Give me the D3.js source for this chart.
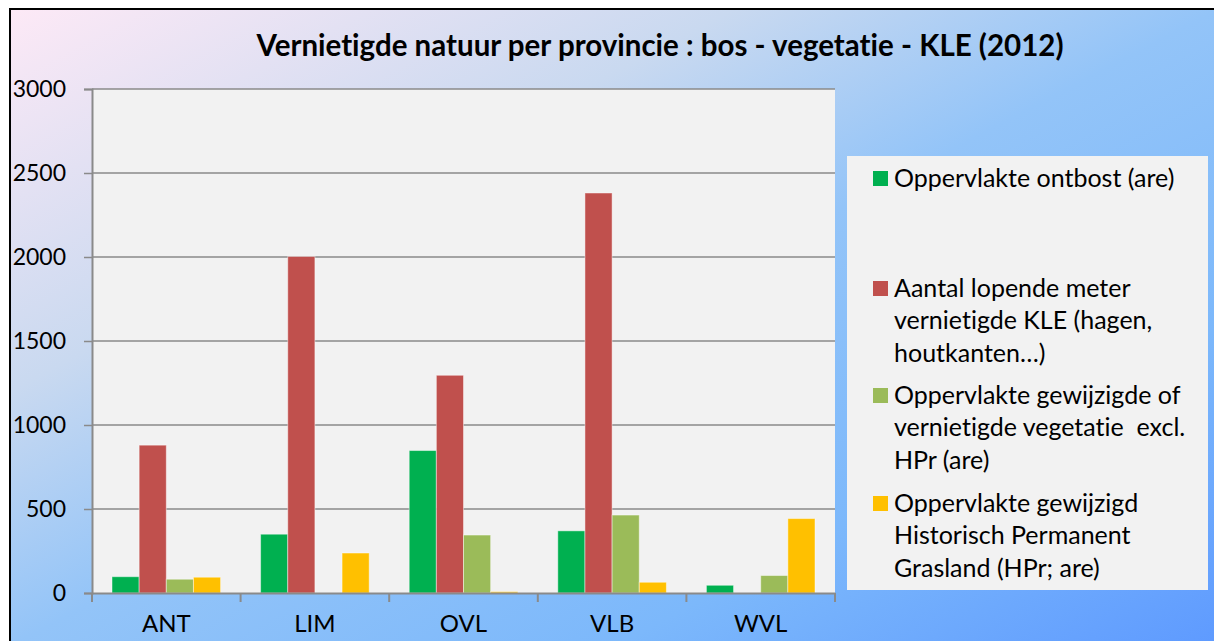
<!DOCTYPE html>
<html><head><meta charset="utf-8">
<script src="https://cdn.jsdelivr.net/npm/d3@7"></script>
<style>html,body{margin:0;padding:0;background:#fff;overflow:hidden} text{font-variant-ligatures:none;font-feature-settings:"liga" 0,"clig" 0,"dlig" 0;white-space:pre}</style>
</head><body>
<script>
const categories = ["ANT","LIM","OVL","VLB","WVL"];
const seriesNames = [
  ["Oppervlakte ontbost (are)"],
  ["Aantal lopende meter","vernietigde KLE (hagen,","houtkanten…)"],
  ["Oppervlakte gewijzigde of","vernietigde vegetatie  excl.","HPr (are)"],
  ["Oppervlakte gewijzigd","Historisch Permanent","Grasland (HPr; are)"]
];
const ontbost   = [97, 350, 848, 370, 46];
const kle       = [880, 2003, 1296, 2381, 0];
const vegetatie = [82, 0, 345, 464, 104];
const hpr       = [94, 238, 8, 64, 443];
const yTicks = [0,500,1000,1500,2000,2500,3000];
const colors = ["#00b050","#c0504d","#9bbb59","#ffc000"];
const series = [ontbost, kle, vegetatie, hpr];
const title = "Vernietigde natuur per provincie : bos - vegetatie - KLE (2012)";

const W=1214,H=641;
const svg=d3.select("body").append("svg").attr("width",W).attr("height",H);
const defs=svg.append("defs");
const g=defs.append("linearGradient").attr("id","bg").attr("x1",0).attr("y1",0).attr("x2",1).attr("y2",1);
[[0,"#fde9f6"],[0.3,"#c9d9f0"],[0.5,"#93c4f8"],[0.75,"#7cb8fb"],[1,"#5e9aff"]].forEach(s=>g.append("stop").attr("offset",s[0]).attr("stop-color",s[1]));
svg.append("rect").attr("x",10).attr("y",9).attr("width",W-10+5).attr("height",H-9+5).attr("fill","url(#bg)").attr("stroke","#000").attr("stroke-width",2);

const font="Lato, 'Open Sans', sans-serif";
svg.append("text").attr("x",660).attr("y",56).attr("text-anchor","middle")
  .attr("font-family",font).attr("font-weight","bold").attr("font-size",29.5).attr("fill","#000").text(title);

const L=92,R=835,T=89,B=593;
const x=d3.scaleBand().domain(categories).range([L,R]).paddingInner(0).paddingOuter(0);
const y=d3.scaleLinear().domain([0,3000]).range([B,T]);
const inner=d3.scaleBand().domain(d3.range(4)).range([20,x.bandwidth()-20]);

svg.append("rect").attr("x",L).attr("y",T).attr("width",R-L).attr("height",B-T).attr("fill","#f2f2f2");

// gridlines
svg.append("g").selectAll("line").data(yTicks.filter(d=>d>0)).join("line")
  .attr("x1",L).attr("x2",R).attr("y1",d=>y(d)).attr("y2",d=>y(d))
  .attr("stroke","#8a8a8a").attr("stroke-width",1.5);

// bars
series.forEach((vals,si)=>{
  svg.append("g").selectAll("rect").data(vals).join("rect")
    .attr("x",(d,i)=>x(categories[i])+inner(si))
    .attr("width",inner.bandwidth())
    .attr("y",d=>y(d)).attr("height",d=>B-y(d))
    .attr("fill",colors[si]).attr("stroke","rgba(255,255,255,0.45)").attr("stroke-width",1);
});

// y axis
const ya=svg.append("g").attr("transform",`translate(${L},0)`).call(d3.axisLeft(y).tickValues(yTicks).tickSize(8).tickPadding(18).tickFormat(d3.format("d")));
ya.select(".domain").attr("stroke","#8a8a8a").attr("stroke-width",2);
ya.selectAll(".tick line").attr("stroke","#8a8a8a").attr("stroke-width",1.5);
ya.selectAll("text").attr("font-family",font).attr("font-size",23).attr("fill","#000");

// x axis
const xa=svg.append("g").attr("transform",`translate(0,${B})`).call(d3.axisBottom(x).tickSize(0).tickPadding(22));
xa.select(".domain").attr("stroke","#8a8a8a").attr("stroke-width",2);
xa.selectAll("text").attr("font-family",font).attr("font-size",24).attr("fill","#000");
svg.append("g").selectAll("line").data(categories.map(c=>x(c)).concat([R])).join("line")
  .attr("x1",d=>d).attr("x2",d=>d).attr("y1",B).attr("y2",B+9).attr("stroke","#8a8a8a").attr("stroke-width",2);

// legend
const lg=svg.append("g");
lg.append("rect").attr("x",847).attr("y",156).attr("width",361).attr("height",434).attr("fill","#f2f2f2");
const itemY=[178,288,395,503];
seriesNames.forEach((lines,i)=>{
  lg.append("rect").attr("x",873).attr("y",itemY[i]-7).attr("width",15).attr("height",15).attr("fill",colors[i]);
  lines.forEach((t,j)=>{
    lg.append("text").attr("x",894).attr("y",itemY[i]+j*32.5).attr("dy","0.35em")
      .attr("font-family",font).attr("font-size",25).attr("fill","#000").text(t);
  });
});
</script>
</body></html>
